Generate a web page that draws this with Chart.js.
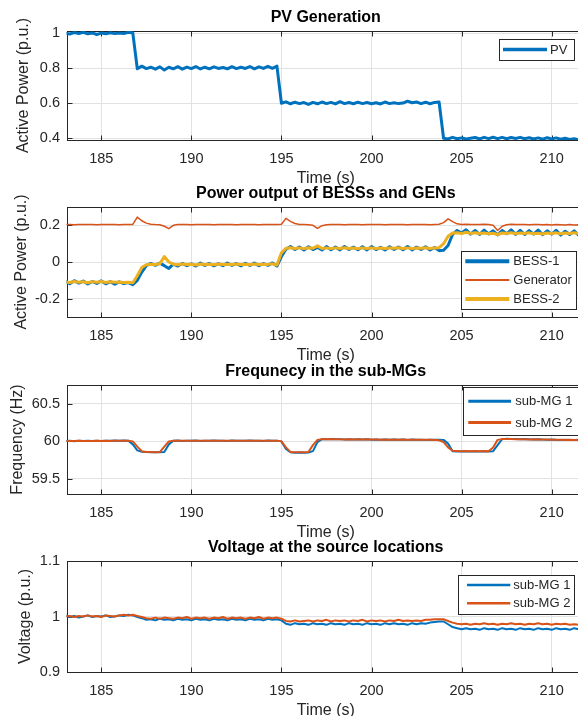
<!DOCTYPE html>
<html><head><meta charset="utf-8">
<script src="https://cdn.jsdelivr.net/npm/chart.js@4.4.1/dist/chart.umd.min.js"></script>
<style>
html,body{margin:0;padding:0;background:#fff;overflow:hidden;width:578px;height:716px;position:relative;}
canvas{position:absolute;left:0;}
</style></head><body>
<canvas id="c1" width="592" height="187" style="top:0px"></canvas>
<canvas id="c2" width="592" height="188" style="top:176px"></canvas>
<canvas id="c3" width="592" height="187" style="top:354px"></canvas>
<canvas id="c4" width="592" height="189" style="top:530px"></canvas>
<script>
// ---------- data ----------
const time = [
183,183.25,183.5,183.75,184,184.25,184.5,184.75,
185,185.25,185.5,185.75,186,186.25,186.5,186.75,
187,187.25,187.5,187.75,188,188.25,188.5,188.75,
189,189.25,189.5,189.75,190,190.25,190.5,190.75,
191,191.25,191.5,191.75,192,192.25,192.5,192.75,
193,193.25,193.5,193.75,194,194.25,194.5,194.75,
195,195.25,195.5,195.75,196,196.25,196.5,196.75,
197,197.25,197.5,197.75,198,198.25,198.5,198.75,
199,199.25,199.5,199.75,200,200.25,200.5,200.75,
201,201.25,201.5,201.75,202,202.25,202.5,202.75,
203,203.25,203.5,203.75,204,204.25,204.5,204.75,
205,205.25,205.5,205.75,206,206.25,206.5,206.75,
207,207.25,207.5,207.75,208,208.25,208.5,208.75,
209,209.25,209.5,209.75,210,210.25,210.5,210.75,
211,211.25,211.5,211.75,212];

const pvPower = [
1.000,0.996,1.004,0.998,1.006,0.997,1.002,0.993,1.001,0.997,1.003,0.998,1.002,0.999,1.006,1.002,
0.797,0.812,0.798,0.806,0.795,0.808,0.790,0.806,0.797,0.809,0.795,0.807,0.798,0.810,0.796,0.806,
0.797,0.808,0.799,0.804,0.797,0.809,0.798,0.806,0.799,0.810,0.797,0.808,0.799,0.811,0.800,0.812,
0.600,0.608,0.597,0.606,0.598,0.604,0.593,0.605,0.597,0.607,0.598,0.605,0.596,0.609,0.598,0.604,
0.597,0.606,0.598,0.604,0.597,0.603,0.596,0.607,0.598,0.603,0.598,0.601,0.612,0.603,0.607,0.598,
0.606,0.597,0.605,0.607,
0.400,0.396,0.405,0.397,0.402,0.396,0.400,0.404,0.396,0.405,0.398,0.406,0.398,0.405,0.397,0.404,
0.399,0.405,0.397,0.403,0.396,0.402,0.395,0.403,0.396,0.402,0.394,0.400,0.393,0.397,0.390,0.392,0.390];

const bess1 = [
-0.105,-0.118,-0.102,-0.115,-0.104,-0.120,-0.106,-0.117,-0.103,-0.119,-0.107,-0.121,-0.108,-0.118,-0.112,-0.124,
-0.100,-0.055,-0.020,-0.008,-0.018,-0.006,-0.020,-0.035,-0.012,-0.022,-0.008,-0.020,-0.010,-0.022,-0.006,-0.019,
-0.008,-0.021,-0.009,-0.020,-0.006,-0.018,-0.008,-0.021,-0.007,-0.019,-0.006,-0.020,-0.009,-0.018,-0.005,-0.022,
0.030,0.070,0.085,0.068,0.082,0.066,0.083,0.068,0.080,0.065,0.084,0.067,0.082,0.066,0.085,0.068,
0.081,0.067,0.083,0.066,0.084,0.068,0.080,0.066,0.083,0.068,0.082,0.067,0.085,0.066,0.081,0.068,
0.083,0.066,0.079,0.062,
0.064,0.090,0.150,0.172,0.158,0.176,0.152,0.172,0.150,0.174,0.153,0.170,0.148,0.172,0.154,0.175,
0.151,0.173,0.150,0.171,0.152,0.174,0.149,0.170,0.152,0.173,0.147,0.168,0.150,0.170,0.146,0.165,0.150];

const generator = [
0.204,0.205,0.203,0.205,0.204,0.205,0.204,0.203,0.205,0.204,0.205,0.204,0.203,0.205,0.204,0.205,
0.245,0.225,0.212,0.206,0.204,0.203,0.195,0.182,0.200,0.204,0.205,0.204,0.203,0.205,0.204,0.205,
0.204,0.203,0.205,0.204,0.205,0.204,0.203,0.205,0.204,0.205,0.204,0.203,0.205,0.204,0.205,0.204,
0.206,0.238,0.222,0.210,0.205,0.204,0.203,0.200,0.183,0.198,0.203,0.205,0.204,0.205,0.203,0.204,
0.205,0.204,0.203,0.205,0.204,0.205,0.204,0.203,0.205,0.204,0.205,0.204,0.203,0.205,0.204,0.205,
0.204,0.203,0.205,0.206,
0.215,0.235,0.220,0.208,0.205,0.206,0.204,0.205,0.205,0.206,0.205,0.200,0.172,0.195,0.203,0.206,
0.205,0.204,0.205,0.203,0.204,0.205,0.203,0.204,0.202,0.204,0.203,0.202,0.204,0.202,0.203,0.201,0.202];

const bess2 = [
-0.108,-0.112,-0.106,-0.110,-0.108,-0.113,-0.107,-0.110,-0.106,-0.112,-0.108,-0.111,-0.109,-0.112,-0.110,-0.113,
-0.075,-0.030,-0.015,-0.012,-0.014,-0.010,0.030,0.000,-0.012,-0.015,-0.011,-0.014,-0.012,-0.016,-0.011,-0.014,
-0.012,-0.015,-0.011,-0.014,-0.012,-0.013,-0.011,-0.014,-0.012,-0.015,-0.011,-0.014,-0.012,-0.013,-0.010,-0.016,
0.050,0.075,0.078,0.074,0.077,0.073,0.078,0.075,0.088,0.074,0.077,0.073,0.077,0.074,0.078,0.074,
0.076,0.073,0.077,0.074,0.077,0.073,0.076,0.074,0.077,0.075,0.078,0.074,0.077,0.073,0.076,0.075,
0.078,0.074,0.077,0.078,
0.100,0.140,0.158,0.160,0.155,0.162,0.156,0.160,0.155,0.158,0.154,0.157,0.150,0.158,0.155,0.160,
0.154,0.158,0.155,0.159,0.154,0.157,0.153,0.158,0.155,0.159,0.154,0.158,0.156,0.160,0.155,0.158,0.156];

const freqMG1 = [
60.005,60.008,60.003,60.007,60.004,60.009,60.005,60.008,60.006,60.010,60.007,60.011,60.008,60.012,60.010,59.960,
59.880,59.862,59.858,59.856,59.855,59.857,59.860,59.960,60.008,60.012,60.006,60.010,60.007,60.011,60.006,60.009,
60.007,60.012,60.008,60.010,60.006,60.011,60.008,60.010,60.007,60.012,60.008,60.010,60.006,60.011,60.008,60.010,
60.000,59.900,59.855,59.850,59.852,59.850,59.853,59.870,59.990,60.030,60.028,60.032,60.027,60.030,60.026,60.029,
60.025,60.028,60.024,60.027,60.023,60.026,60.022,60.025,60.021,60.024,60.022,60.025,60.020,60.024,60.021,60.023,
60.020,60.022,60.021,60.023,
60.020,59.970,59.870,59.866,59.865,59.867,59.864,59.866,59.865,59.867,59.866,59.870,59.950,60.030,60.035,60.032,
60.030,60.028,60.031,60.027,60.025,60.028,60.024,60.022,60.025,60.021,60.020,60.023,60.019,60.018,60.021,60.017,60.018];

const freqMG2 = [
60.003,60.006,60.004,60.007,60.005,60.006,60.004,60.008,60.006,60.007,60.005,60.009,60.007,60.010,60.009,60.000,
59.930,59.870,59.860,59.858,59.857,59.858,59.930,60.000,60.008,60.010,60.007,60.009,60.008,60.010,60.007,60.009,
60.008,60.010,60.007,60.009,60.008,60.010,60.007,60.009,60.008,60.010,60.007,60.009,60.008,60.010,60.007,60.009,
60.000,59.920,59.860,59.856,59.855,59.856,59.858,59.950,60.020,60.030,60.028,60.030,60.027,60.029,60.026,60.028,
60.026,60.027,60.025,60.027,60.024,60.026,60.023,60.025,60.023,60.024,60.022,60.024,60.022,60.023,60.021,60.023,
60.021,60.022,60.020,60.015,
59.990,59.920,59.875,59.872,59.870,59.872,59.870,59.871,59.870,59.872,59.870,59.920,60.020,60.030,60.032,60.030,
60.028,60.029,60.027,60.026,60.027,60.025,60.024,60.025,60.022,60.023,60.021,60.020,60.021,60.019,60.020,60.018,60.019];

const voltMG1 = [
1.002,0.999,1.001,0.998,1.000,1.002,0.999,1.001,1.000,1.002,0.999,1.000,1.002,1.001,1.003,1.002,
0.999,0.997,0.994,0.995,0.993,0.996,0.994,0.995,0.993,0.996,0.994,0.995,0.993,0.996,0.994,0.995,
0.993,0.996,0.994,0.995,0.993,0.996,0.994,0.995,0.993,0.996,0.994,0.995,0.993,0.996,0.994,0.995,
0.993,0.987,0.985,0.988,0.986,0.987,0.985,0.988,0.986,0.987,0.985,0.988,0.986,0.987,0.985,0.988,
0.986,0.987,0.985,0.988,0.986,0.987,0.985,0.988,0.986,0.988,0.986,0.987,0.985,0.988,0.986,0.988,
0.987,0.989,0.990,0.991,
0.991,0.986,0.981,0.979,0.977,0.979,0.977,0.978,0.976,0.979,0.977,0.978,0.976,0.979,0.977,0.978,
0.976,0.979,0.977,0.978,0.976,0.979,0.977,0.978,0.976,0.979,0.977,0.978,0.976,0.979,0.977,0.978,0.977];

const voltMG2 = [
1.000,1.001,0.999,1.001,1.000,1.002,1.000,1.001,0.999,1.002,1.001,1.000,1.002,1.003,1.002,1.003,
1.001,0.999,0.997,0.996,0.998,0.996,0.998,0.997,0.996,0.998,0.997,0.999,0.996,0.998,0.997,0.998,
0.996,0.998,0.997,0.999,0.996,0.998,0.997,0.998,0.996,0.998,0.997,0.999,0.996,0.998,0.997,0.998,
0.996,0.992,0.991,0.993,0.991,0.992,0.993,0.991,0.993,0.992,0.994,0.991,0.993,0.992,0.993,0.991,
0.993,0.992,0.994,0.991,0.993,0.992,0.993,0.991,0.993,0.992,0.994,0.992,0.993,0.992,0.993,0.992,
0.994,0.994,0.995,0.995,
0.995,0.992,0.989,0.987,0.986,0.987,0.985,0.987,0.986,0.988,0.986,0.987,0.985,0.987,0.986,0.988,
0.986,0.987,0.985,0.987,0.986,0.988,0.986,0.987,0.985,0.987,0.986,0.987,0.985,0.986,0.985,0.987,0.986];

const xTicks = [185,190,195,200,205,210];
const pvTicks = [0.4,0.6,0.8,1];
const bessTicks = [-0.2,0,0.2];
const freqTicks = [59.5,60,60.5];
const voltTicks = [0.9,1,1.1];

const titles = ['PV Generation','Power output of BESSs and GENs','Frequnecy in the sub-MGs','Voltage at the source locations'];
const yLabels = ['Active Power (p.u.)','Active Power (p.u.)','Frequency (Hz)','Voltage (p.u.)'];
const xLabel = 'Time (s)';
const pvNames = ['PV'];
const bessNames = ['BESS-1','Generator','BESS-2'];
const mgNames = ['sub-MG 1','sub-MG 2'];

// ---------- styling ----------
const X_MIN = 183.07, X_MAX = 211.85;
const C_BLUE = '#0072BD', C_ORANGE = '#D95319', C_YELLOW = '#EDB120';
const FONT = '"Liberation Sans", Arial, Helvetica, sans-serif';
const INK = '#262626';
const GRID = '#e2e2e2';

function pts(ys){ return time.map((t,i)=>({x:t,y:ys[i]})); }
function ds(label, ys, color, w, order){
  return {label, data: pts(ys), borderColor: color, backgroundColor: color, borderWidth: w,
          pointRadius: 0, tension: 0, borderJoinStyle: 'round', fill: false, order};
}

const frame = {
  id: 'frame',
  beforeDatasetsDraw(chart){
    const {ctx, chartArea: a, scales: {x, y}} = chart;
    ctx.save();
    ctx.strokeStyle = INK; ctx.lineWidth = 1;
    const L = Math.round(a.left) + 0.5, R = Math.round(a.right) + 0.5,
          T = Math.round(a.top) + 0.5, B = Math.round(a.bottom) + 0.5;
    ctx.beginPath();
    x.ticks.forEach(tk => { const px = Math.round(x.getPixelForValue(tk.value)) + 0.5;
      ctx.moveTo(px, B); ctx.lineTo(px, B - 5); ctx.moveTo(px, T); ctx.lineTo(px, T + 5); });
    y.ticks.forEach(tk => { const py = Math.round(y.getPixelForValue(tk.value)) + 0.5;
      ctx.moveTo(L, py); ctx.lineTo(L + 5, py); ctx.moveTo(R, py); ctx.lineTo(R - 5, py); });
    ctx.stroke();
    ctx.strokeRect(L, T, R - L, B - T);
    ctx.restore();
  }
};

const boxLegend = {
  id: 'boxLegend',
  afterDraw(chart, args, o){
    const {ctx, chartArea: a} = chart;
    const left = Math.round(a.right - o.inset - o.w), top = Math.round(a.top + o.top);
    ctx.save();
    ctx.fillStyle = '#fff'; ctx.fillRect(left, top, o.w, o.h);
    ctx.strokeStyle = INK; ctx.lineWidth = 1;
    ctx.strokeRect(left + 0.5, top + 0.5, Math.round(o.w), Math.round(o.h));
    ctx.font = '13px ' + FONT; ctx.textBaseline = 'middle'; ctx.textAlign = 'left';
    chart.data.datasets.forEach((d, i) => {
      const yy = top + o.first + i * o.gap;
      ctx.strokeStyle = d.borderColor; ctx.lineWidth = o.lw[i]; ctx.lineCap = 'butt';
      ctx.beginPath(); ctx.moveTo(left + o.sx, yy); ctx.lineTo(left + o.sx + o.sl, yy); ctx.stroke();
      ctx.fillStyle = INK; ctx.fillText(d.label, left + o.tx, yy + 0.5);
    });
    ctx.restore();
  }
};

function makeChart(id, datasets, yMin, yMax, yTicks, title, yLabel, yTitlePad, leg){
  return new Chart(document.getElementById(id), {
    type: 'line',
    data: {datasets},
    plugins: [frame, boxLegend],
    options: {
      responsive: false, animation: false, events: [],
      layout: {padding: {left: 0, right: 7, top: 0, bottom: 0}},
      plugins: {
        legend: {display: false}, tooltip: {enabled: false},
        title: {display: true, text: title, fullSize: false, color: '#000',
                font: {family: FONT, size: 16, weight: 'bold', lineHeight: 1.2},
                padding: {top: 8, bottom: 3.8}},
        boxLegend: leg
      },
      scales: {
        x: {type: 'linear', min: X_MIN, max: X_MAX,
            afterBuildTicks: s => { s.ticks = xTicks.map(v => ({value: v})); },
            afterFit: s => { s.height = 47; },
            grid: {color: GRID, drawTicks: false}, border: {display: false},
            ticks: {color: INK, padding: 10.5, font: {family: FONT, size: 14.5}, maxRotation: 0, autoSkip: false,
                    callback: v => String(v)},
            title: {display: true, text: xLabel, color: INK, font: {family: FONT, size: 16, lineHeight: 1.2},
                    padding: {top: 0, bottom: -1.5}}},
        y: {type: 'linear', min: yMin, max: yMax,
            afterBuildTicks: s => { s.ticks = yTicks.map(v => ({value: v})); },
            afterFit: s => { s.width = 66.5; },
            grid: {color: GRID, drawTicks: false}, border: {display: false},
            ticks: {color: INK, padding: 6.5, font: {family: FONT, size: 14.5}, autoSkip: false,
                    callback: v => String(v)},
            title: {display: true, text: yLabel, color: INK, font: {family: FONT, size: 16, lineHeight: 1.2},
                    padding: {top: yTitlePad, bottom: 0}}}
      }
    }
  });
}

makeChart('c1', [ds(pvNames[0], pvPower, C_BLUE, 3, 1)],
  0.39, 1.013, pvTicks, titles[0], yLabels[0], 14.4,
  {inset: 11, top: 8, w: 75, h: 21, first: 10.5, gap: 0, sx: 4, sl: 44, tx: 51, lw: [3.5]});

makeChart('c2', [ds(bessNames[0], bess1, C_BLUE, 3, 3),
                 ds(bessNames[1], generator, C_ORANGE, 1.5, 2),
                 ds(bessNames[2], bess2, C_YELLOW, 3, 1)],
  -0.3, 0.3, bessTicks, titles[1], yLabels[1], 11.9,
  {inset: 9, top: 43.7, w: 115, h: 57.6, first: 10.3, gap: 18.8, sx: 4.3, sl: 44, tx: 52.3, lw: [4, 2, 4]});

makeChart('c3', [ds(mgNames[0], freqMG1, C_BLUE, 2, 2),
                 ds(mgNames[1], freqMG2, C_ORANGE, 2, 1)],
  59.3, 60.75, freqTicks, titles[2], yLabels[2], 7.9,
  {inset: 7, top: 1.7, w: 115.3, h: 47.6, first: 14.3, gap: 21.3, sx: 5.3, sl: 42.7, tx: 52.3, lw: [3, 3]});

makeChart('c4', [ds(mgNames[0], voltMG1, C_BLUE, 2, 2),
                 ds(mgNames[1], voltMG2, C_ORANGE, 2, 1)],
  0.9, 1.1, voltTicks, titles[3], yLabels[3], 16.2,
  {inset: 11, top: 14, w: 116.3, h: 39, first: 10, gap: 18.3, sx: 9, sl: 43.3, tx: 55.3, lw: [2.5, 2.5]});
</script>
</body></html>
